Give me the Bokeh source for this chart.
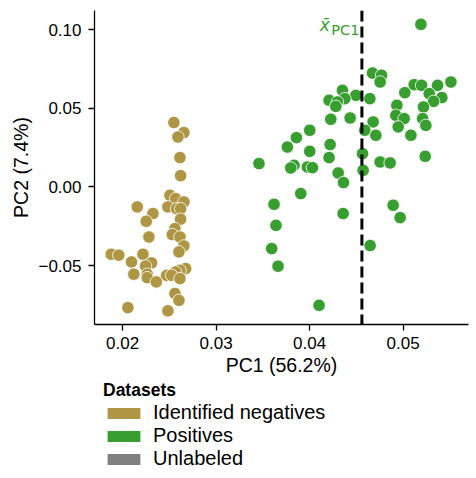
from bokeh.plotting import figure
from bokeh.models import Span, Label, Legend, LegendItem, FixedTicker
from bokeh.layouts import column
from bokeh.embed import file_html
from bokeh.resources import INLINE

# ---- data ----
neg_x = [0.02549, 0.02656, 0.02592, 0.02614, 0.02621, 0.02507, 0.02568, 0.02656,
         0.02157, 0.02485, 0.02578, 0.02621, 0.02325, 0.02253, 0.02621, 0.02560,
         0.02532, 0.02614, 0.02282, 0.02656, 0.02603, 0.01879, 0.01960, 0.02218,
         0.02096, 0.02310, 0.02246, 0.02675, 0.02614, 0.02567, 0.02121, 0.02264,
         0.02471, 0.02525, 0.02264, 0.02614, 0.02361, 0.02560, 0.02603, 0.02057,
         0.02485]
neg_y = [0.0410, 0.0346, 0.0318, 0.0187, 0.0072, -0.0053, -0.0074, -0.0095,
         -0.0127, -0.0127, -0.0138, -0.0138, -0.0169, -0.0218, -0.0205, -0.0265,
         -0.0303, -0.0318, -0.0318, -0.0375, -0.0413, -0.0428, -0.0434, -0.0428,
         -0.0477, -0.0483, -0.0503, -0.0519, -0.0530, -0.0541, -0.0555, -0.0555,
         -0.0562, -0.0562, -0.0577, -0.0583, -0.0604, -0.0678, -0.0721, -0.0768,
         -0.0788]

pos_x = [0.05191, 0.04673, 0.04770, 0.04755, 0.05512, 0.05119, 0.05198, 0.05369,
         0.05019, 0.05280, 0.05415, 0.05327, 0.04352, 0.04495, 0.04377, 0.04209,
         0.04298, 0.04645, 0.04281, 0.04934, 0.05219, 0.04923, 0.05012, 0.05209,
         0.05244, 0.04948, 0.05084, 0.04227, 0.04434, 0.04680, 0.04591, 0.04709,
         0.04002, 0.03859, 0.03763, 0.04220, 0.04002, 0.04566, 0.05237, 0.04209,
         0.03459, 0.03834, 0.03799, 0.03977, 0.04031, 0.04755, 0.04862, 0.04306,
         0.04573, 0.04363, 0.03906, 0.03620, 0.04894, 0.04969, 0.04359, 0.03641,
         0.03595, 0.04648, 0.03663, 0.04102]
pos_y = [0.1035, 0.0725, 0.0711, 0.0668, 0.0668, 0.0651, 0.0647, 0.0647,
         0.0600, 0.0594, 0.0569, 0.0545, 0.0615, 0.0583, 0.0562, 0.0552,
         0.0541, 0.0562, 0.0513, 0.0520, 0.0509, 0.0456, 0.0435, 0.0435,
         0.0392, 0.0382, 0.0329, 0.0431, 0.0439, 0.0414, 0.0361, 0.0329,
         0.0361, 0.0314, 0.0254, 0.0270, 0.0227, 0.0212, 0.0195, 0.0187,
         0.0149, 0.0138, 0.0121, 0.0127, 0.0123, 0.0159, 0.0153, 0.0089,
         0.0106, 0.0028, -0.0042, -0.0110, -0.0116, -0.0195, -0.0169, -0.0244,
         -0.0392, -0.0373, -0.0504, -0.0753]

mean_pc1 = 0.0456

x_ticks = [0.02, 0.03, 0.04, 0.05]
y_ticks = [-0.05, 0.0, 0.05, 0.10]
x_tick_labels = {0.02: "0.02", 0.03: "0.03", 0.04: "0.04", 0.05: "0.05"}
y_tick_labels = {-0.05: "\u22120.05", 0.0: "0.00", 0.05: "0.05", 0.10: "0.10"}

legend_labels = ["Identified negatives", "Positives", "Unlabeled"]
legend_colors = ["#ae9645", "#389e2f", "#808080"]

FONT = "Liberation Sans"

p = figure(frame_width=374, frame_height=314,
           x_range=(0.0170, 0.0570), y_range=(-0.0875, 0.1123),
           min_border_left=94, min_border_top=10, min_border_right=6, min_border_bottom=55,
           output_backend="svg", toolbar_location=None)

p.grid.visible = False
p.outline_line_color = None
p.background_fill_color = "white"

for ax in (p.xaxis[0], p.yaxis[0]):
    ax.axis_line_color = "black"
    ax.axis_line_width = 1.3
    ax.major_tick_line_color = "black"
    ax.major_tick_line_width = 1.3
    ax.major_tick_in = 0
    ax.major_tick_out = 6
    ax.minor_tick_line_color = None
    ax.major_label_text_font = FONT
    ax.major_label_text_font_size = "17px"
    ax.major_label_text_color = "black"
    ax.axis_label_text_font = FONT
    ax.axis_label_text_font_size = "19.5px"
    ax.axis_label_text_font_style = "normal"
    ax.axis_label_text_color = "black"

p.xaxis.ticker = FixedTicker(ticks=x_ticks)
p.yaxis.ticker = FixedTicker(ticks=y_ticks)
p.xaxis.major_label_overrides = x_tick_labels
p.yaxis.major_label_overrides = y_tick_labels
p.xaxis.axis_label = "PC1 (56.2%)"
p.yaxis.axis_label = "PC2 (7.4%)"
p.xaxis.major_label_standoff = 6
p.yaxis.major_label_standoff = 7
p.xaxis.axis_label_standoff = 2
p.yaxis.axis_label_standoff = 3

p.scatter(neg_x, neg_y, size=12.5, fill_color=legend_colors[0], line_color="white", line_width=0.8)
p.scatter(pos_x, pos_y, size=12.5, fill_color=legend_colors[1], line_color="white", line_width=0.8)

p.add_layout(Span(location=mean_pc1, dimension="height", line_color="black",
                  line_width=3, line_dash="11 5"))

p.add_layout(Label(x=mean_pc1, y=0.0997, x_offset=-2.5, text="PC1", text_align="right",
                   text_baseline="alphabetic", text_font="DejaVu Sans",
                   text_font_size="14.5px", text_color=legend_colors[1]))
p.add_layout(Label(x=mean_pc1, y=0.1029, x_offset=-32, text="x\u0304", text_align="right",
                   text_baseline="alphabetic", text_font="DejaVu Sans",
                   text_font_style="italic",
                   text_font_size="17px", text_color=legend_colors[1]))

# ---- legend panel below the axes ----
p2 = figure(frame_width=374, frame_height=96, x_range=(0, 1), y_range=(0, 1),
            min_border_left=94, min_border_right=6, min_border_top=0, min_border_bottom=0,
            x_axis_type=None, y_axis_type=None,
            output_backend="svg", toolbar_location=None)
p2.grid.visible = False
p2.outline_line_color = None

items = []
for lab, col in zip(legend_labels, legend_colors):
    # zero-size proxy glyph: only its legend swatch is visible
    r = p2.rect(x=[0.5], y=[0.5], width=0, height=0, fill_color=col, line_color=None)
    items.append(LegendItem(label=lab, renderers=[r]))

legend = Legend(items=items, location=(9, 5), orientation="vertical",
                title="Datasets", title_text_font=FONT, title_text_font_size="17.5px",
                title_text_font_style="bold", title_standoff=0, title_text_color="black",
                label_text_font=FONT, label_text_font_size="20px", label_text_color="black",
                glyph_width=41, glyph_height=14, label_height=23, label_standoff=9,
                spacing=0, padding=0, margin=0,
                border_line_color=None, background_fill_color=None)
p2.add_layout(legend, "center")

layout = column(p, p2, spacing=0)
open("out.html", "w").write(file_html(layout, INLINE))
